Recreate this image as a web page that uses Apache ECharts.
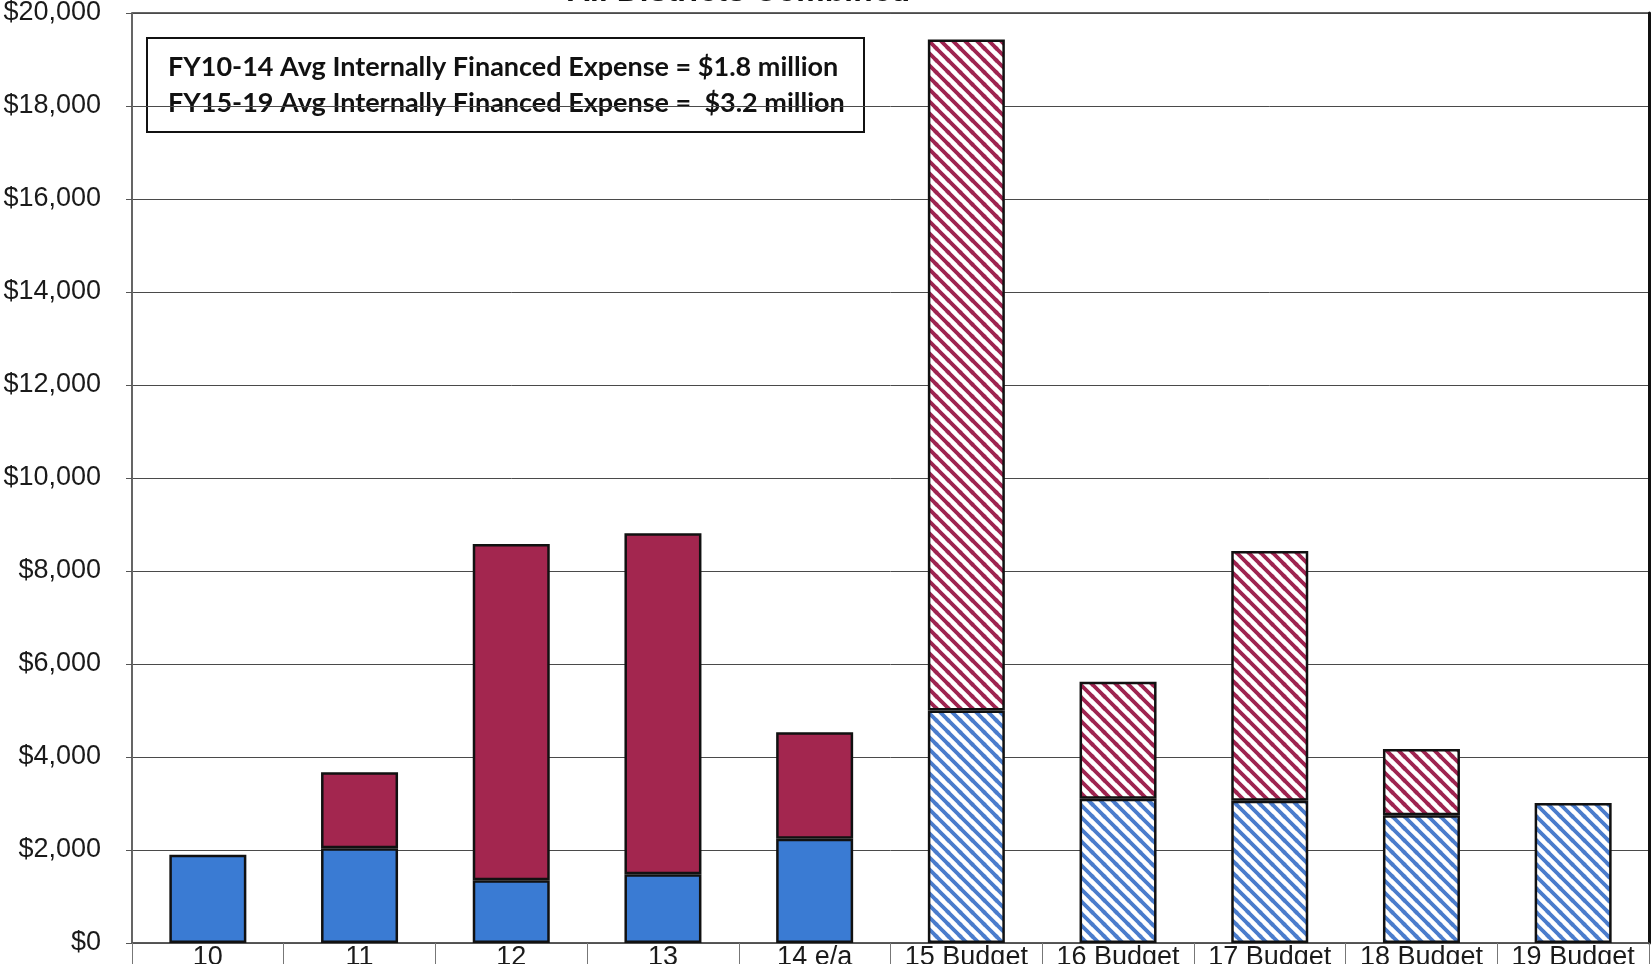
<!DOCTYPE html>
<html>
<head>
<meta charset="utf-8">
<title>All Districts Combined</title>
<script src="https://cdn.jsdelivr.net/npm/echarts@6/dist/echarts.min.js"></script>
<style>
  html, body { margin: 0; padding: 0; background: #ffffff; }
  #chart { width: 1651px; height: 964px; }
</style>
</head>
<body>
<div id="chart"></div>
<script>
// Fiscal years: FY10-FY14 actual / estimated-actual, FY15-FY19 budget
const categories = ['10', '11', '12', '13', '14 e/a', '15 Budget', '16 Budget', '17 Budget', '18 Budget', '19 Budget'];
// Internally financed expense ($ thousands)
const internalValues = [1900, 2040, 1350, 1480, 2240, 5000, 3100, 3060, 2750, 3010];
// Debt financed expense ($ thousands), stacked on top
const debtValues = [null, 1630, 7230, 7330, 2290, 14430, 2520, 5370, 1420, null];
// First budget year index: budget bars are drawn hatched
const firstBudgetIndex = 5;
const yTicks = { min: 0, max: 20000, interval: 2000 };
const noteLines = [
  'FY10-14 Avg Internally Financed Expense = $1.8 million',
  'FY15-19 Avg Internally Financed Expense =  $3.2 million'
];
const chartTitle = 'All Districts Combined';

const BLUE = '#3a7bd3';
const RED = '#a3264f';

// Diagonal "\" stripe tile used as a repeating fill for budget bars
function stripeTile(color) {
  const s = 12;
  const c = document.createElement('canvas');
  c.width = s; c.height = s;
  const g = c.getContext('2d');
  g.fillStyle = '#ffffff';
  g.fillRect(0, 0, s, s);
  g.strokeStyle = color;
  g.lineWidth = 3.8;
  g.lineCap = 'square';
  [[-s, 0, 0, s], [0, 0, s, s], [0, -s, s, 0], [s, 0, 2 * s, s], [0, s, s, 2 * s]].forEach(function (p) {
    g.beginPath();
    g.moveTo(p[0] - 2, p[1] - 2);
    g.lineTo(p[2] + 2, p[3] + 2);
    g.stroke();
  });
  return { image: c, repeat: 'repeat' };
}

const blueHatch = stripeTile('#4a7ccc');
const redHatch = stripeTile('#9e2450');

function buildData(values, solid, hatch) {
  return values.map(function (v, i) {
    return {
      value: v,
      itemStyle: { color: i >= firstBudgetIndex ? hatch : solid }
    };
  });
}

const chart = echarts.init(document.getElementById('chart'), null, { renderer: 'canvas' });

const barStyle = { borderColor: '#111111', borderWidth: 2.5 };
const axisFont = '"Liberation Sans", Arial, sans-serif';

chart.setOption({
  animation: false,
  backgroundColor: '#ffffff',
  grid: {
    left: 132, right: 2, top: 13, bottom: 21,
    show: true, borderColor: '#333333', borderWidth: 1.5,
    backgroundColor: 'transparent',
    outerBoundsMode: 'none'
  },
  xAxis: {
    type: 'category',
    data: categories,
    axisLine: { show: true, lineStyle: { color: '#555555', width: 1.5 } },
    axisTick: { show: true, length: 24, interval: 0, alignWithLabel: false, lineStyle: { color: '#777777', width: 1 } },
    axisLabel: { interval: 0, margin: 1, fontFamily: axisFont, fontSize: 27, color: '#1a1a1a' },
    splitLine: { show: false }
  },
  yAxis: [
    {
      type: 'value',
      min: yTicks.min, max: yTicks.max, interval: yTicks.interval,
      axisLine: { show: true, lineStyle: { color: '#666666', width: 1 } },
      axisTick: { show: true, length: 6, lineStyle: { color: '#555555' } },
      axisLabel: {
        margin: 31,
        fontFamily: axisFont, fontSize: 27, color: '#1a1a1a',
        formatter: function (v) { return '$' + v.toLocaleString('en-US'); }
      },
      splitLine: { show: true, lineStyle: { color: '#4a4a4a', width: 1 } }
    },
    {
      // right-hand frame edge of the plot area
      type: 'value',
      position: 'right',
      min: yTicks.min, max: yTicks.max, interval: yTicks.interval,
      axisLine: { show: true, lineStyle: { color: '#111111', width: 3 } },
      axisTick: { show: false },
      axisLabel: { show: false },
      splitLine: { show: false }
    }
  ],
  series: [
    {
      name: 'Internally Financed',
      type: 'bar',
      stack: 'expense',
      barWidth: 77,
      itemStyle: barStyle,
      data: buildData(internalValues, BLUE, blueHatch)
    },
    {
      name: 'Debt Financed',
      type: 'bar',
      stack: 'expense',
      barWidth: 77,
      itemStyle: barStyle,
      data: buildData(debtValues, RED, redHatch)
    }
  ],
  graphic: [
    {
      type: 'text',
      x: 740, y: 8,
      style: {
        text: chartTitle,
        textAlign: 'center',
        verticalAlign: 'bottom',
        font: 'italic bold 32px "Liberation Sans", Arial, sans-serif',
        fill: '#111111'
      },
      silent: true
    },
    {
      type: 'group',
      x: 147, y: 38,
      children: [
        {
          type: 'rect',
          shape: { x: 0, y: 0, width: 717, height: 94 },
          style: { fill: '#ffffff', stroke: '#111111', lineWidth: 2 }
        },
        {
          type: 'text',
          x: 21, y: 29,
          style: {
            text: noteLines[0],
            font: 'bold 27px Lato, "Noto Sans", sans-serif',
            fill: '#111111',
            verticalAlign: 'middle'
          }
        },
        {
          type: 'text',
          x: 21, y: 65,
          style: {
            text: noteLines[1],
            font: 'bold 27px Lato, "Noto Sans", sans-serif',
            fill: '#111111',
            verticalAlign: 'middle'
          }
        }
      ]
    }
  ]
});
</script>
</body>
</html>
